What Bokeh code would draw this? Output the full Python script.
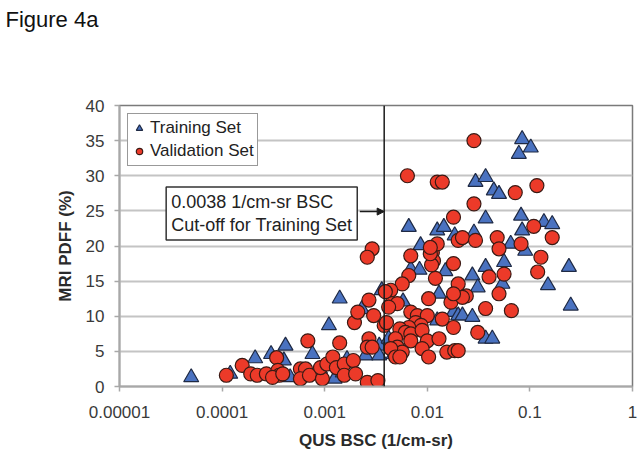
from bokeh.plotting import figure
from bokeh.models import (Range1d, FixedTicker, CustomJSTickFormatter, Span, Label,
                          Arrow, NormalHead, Legend, LegendItem, Title)
from bokeh.embed import file_html
from bokeh.resources import INLINE

# ---- data ----
train_x = [5e-5, 1.2e-4, 2.1e-4, 3.0e-4, 4.0e-4, 4.15e-4, 4.6e-4, 7.6e-4, 9e-4, 1.1e-3,
           1.25e-3, 1.4e-3, 1.5e-3, 1.65e-3, 2.3e-3, 2.5e-3, 3.4e-3, 3.4e-3, 3.6e-3, 4.2e-3,
           4.7e-3, 5.8e-3, 6.6e-3, 6.9e-3, 8.4e-3, 8.6e-3, 1.25e-2, 1.45e-2, 1.3e-2, 1.5e-2,
           1.25e-2, 1.85e-2, 1.8e-2, 2.0e-2, 2.2e-2, 2.75e-2, 2.75e-2, 2.85e-2, 2.95e-2, 3.7e-2,
           4.45e-2, 5.0e-2, 3.7e-2, 3.1e-2, 3.7e-2, 5.6e-2, 5.4e-2, 3.7e-2, 4.3e-2, 6.5e-2,
           9.0e-2, 8.4e-2, 8.2e-2, 8.4e-2, 1.02e-1, 7.8e-2, 1.37e-1, 1.65e-1, 1.5e-1, 2.4e-1,
           2.5e-1]
train_y = [1.3, 1.8, 4.0, 4.6, 3.7, 5.8, 1.3, 4.6, 2.5, 8.7,
           1.1, 12.5, 2.0, 3.9, 11.0, 4.4, 5.8, 4.4, 13.7, 6.8,
           4.6, 12.1, 22.7, 16.7, 16.6, 20.1, 22.2, 22.7, 13.2, 16.4,
           9.4, 21.5, 10.6, 10.1, 10.1, 9.9, 15.8, 21.9, 29.1, 29.8,
           27.9, 27.4, 23.9, 14.1, 17.0, 17.7, 14.6, 6.8, 6.8, 20.3,
           19.3, 22.2, 24.3, 35.2, 34.0, 33.1, 23.4, 23.1, 14.4, 17.0,
           11.5]

val_x = [1.1e-4, 1.57e-4, 1.9e-4, 2.2e-4, 2.7e-4, 3.4e-4, 3.5e-4, 3.6e-4, 3.1e-4, 3.9e-4,
         6.85e-4, 5.8e-4, 6.5e-4, 5.8e-4, 7.1e-4, 9.5e-4, 9.1e-4, 1.05e-3, 2.9e-3, 2.6e-3,
         2.7e-3, 3.0e-3, 1.95e-3, 1.4e-3, 2.7e-3, 2.6e-3, 2.9e-3, 1.2e-3, 1.3e-3, 1.55e-3,
         1.9e-3, 1.55e-3, 2.0e-3, 2.6e-3, 3.3e-3, 6.9e-3, 1.12e-2, 1.15e-2, 1.1e-2, 1.8e-2,
         6.6e-3, 1.2e-2, 5.7e-3, 4.4e-3, 4.5e-3, 5.1e-3, 4.2e-3, 1.03e-2, 1.7e-2, 6.9e-3,
         8.0e-3, 1.0e-2, 7.7e-3, 8.7e-3, 6.6e-3, 5.4e-3, 6.1e-3, 6.9e-3, 8.9e-3, 3.8e-3,
         1.4e-2, 1.8e-2, 4.9e-3, 6.9e-3, 1.0e-2, 1.3e-2, 5.1e-3, 5.7e-3, 4.4e-3, 8.9e-3,
         1.03e-2, 1.55e-2, 1.85e-2, 4.9e-3, 6.4e-3, 1.25e-2, 1.4e-2, 1.8e-2, 1.25e-2, 1.07e-2,
         2.0e-2, 2.85e-2, 7.2e-2, 1.17e-1, 2.85e-2, 1.09e-1, 1.65e-1, 2.2e-2, 2.95e-2, 4.8e-2,
         5.0e-2, 8.2e-2, 1.28e-1, 1.19e-1, 4.0e-2, 5.6e-2, 2.0e-2, 5.0e-2, 2.4e-2, 2.2e-2,
         3.7e-2, 6.6e-2, 3.1e-2, 2.0e-2, 1.8e-2, 2.1e-3, 4.0e-3, 5.4e-3, 1.07e-2, 3.9e-3]
val_y = [1.6, 3.0, 1.8, 1.6, 1.8, 4.1, 2.3, 1.6, 1.3, 1.8,
         6.5, 2.5, 2.5, 1.1, 1.6, 1.1, 2.7, 3.2, 19.6, 18.4,
         12.3, 10.1, 9.1, 6.2, 6.8, 5.6, 5.6, 4.2, 2.7, 3.2,
         3.7, 1.6, 1.8, 0.6, 0.85, 18.6, 19.1, 17.9, 17.3, 17.5,
         15.8, 15.4, 14.6, 13.7, 11.8, 11.8, 11.3, 12.5, 12.0, 10.6,
         10.1, 10.1, 9.1, 8.7, 8.4, 8.2, 7.7, 7.5, 8.0, 8.7,
         9.6, 8.4, 6.8, 6.5, 6.5, 6.8, 5.6, 4.9, 5.4, 5.4,
         4.2, 4.9, 5.1, 4.2, 30.0, 29.1, 29.1, 24.1, 20.3, 18.9,
         20.8, 35.0, 27.6, 28.6, 26.0, 22.8, 21.2, 21.2, 20.8, 21.2,
         19.6, 20.3, 18.4, 16.3, 15.6, 16.0, 14.6, 13.2, 12.9, 12.7,
         11.1, 10.8, 7.7, 5.1, 13.2, 10.6, 9.1, 4.2, 19.8, 13.5]

x_ticks = [1e-5, 1e-4, 1e-3, 1e-2, 1e-1, 1.0]
y_ticks = [0, 5, 10, 15, 20, 25, 30, 35, 40]
cutoff = 0.0038
cutoff_text = "0.0038 1/cm-sr BSC\nCut-off for Training Set"
figure_title = "Figure 4a"

FONT = "Liberation Sans"

W, H = 640, 456
p = figure(width=W, height=H, x_axis_type="log", title=None,
           x_range=Range1d(1e-5, 1), y_range=Range1d(0, 40),
           output_backend="svg", toolbar_location=None,
           min_border_left=119, min_border_right=8,
           min_border_top=105, min_border_bottom=70)
p.background_fill_color = "white"
p.border_fill_color = "white"
p.outline_line_color = "#7a7a7a"
p.outline_line_width = 1.5

# spacer panel nearest the frame, then the real title further out (at the very top)
spacer = Title(text=" ", text_font_size="10px", standoff=58)
p.add_layout(spacer, "above")
ttl = Title(text=figure_title, align="left", offset=-114, standoff=6,
            text_font=FONT, text_font_size="22px", text_font_style="normal",
            text_color="#111111")
p.add_layout(ttl, "above")

p.xgrid.grid_line_color = None
p.ygrid.grid_line_color = "#c4c4c4"
p.ygrid.grid_line_width = 2

p.xaxis.ticker = FixedTicker(ticks=x_ticks, minor_ticks=[])
p.xaxis.formatter = CustomJSTickFormatter(code="""
    if (tick >= 1) { return tick.toFixed(0); }
    return tick.toFixed(Math.round(-Math.log10(tick)));
""")
p.yaxis.ticker = FixedTicker(ticks=y_ticks, minor_ticks=[])

for ax in (p.xaxis, p.yaxis):
    ax.axis_line_color = "#a8a8a8"
    ax.axis_line_width = 2
    ax.major_tick_line_color = "#a8a8a8"
    ax.major_tick_line_width = 1.5
    ax.major_tick_out = 5
    ax.major_tick_in = 0
    ax.minor_tick_line_color = None
    ax.major_label_text_font = FONT
    ax.major_label_text_font_size = "17px"
    ax.major_label_text_color = "#3a3a3a"
    ax.axis_label_text_font = FONT
    ax.axis_label_text_font_size = "17px"
    ax.axis_label_text_font_style = "bold"
    ax.axis_label_text_color = "#2a2a2a"

p.xaxis.axis_label = "QUS BSC (1/cm-sr)"
p.yaxis.axis_label = "MRI PDFF (%)"
p.xaxis.major_label_standoff = 14
p.xaxis.axis_label_standoff = 10
p.yaxis.major_label_standoff = 10
p.yaxis.axis_label_standoff = 8

tri = p.scatter(train_x, train_y, marker="triangle", size=15,
                fill_color="#4a72c0", line_color="#1f2a44", line_width=1.2)
circ = p.scatter(val_x, val_y, marker="circle", size=14,
                 fill_color="#ec3a29", line_color="#3a1a14", line_width=1.2)

p.add_layout(Span(location=cutoff, dimension="height", line_color="#1a1a1a", line_width=1.5))

p.add_layout(Label(x=2.85e-5, y=28.4, text=cutoff_text, text_font=FONT,
                   text_font_size="18px", text_color="#222222",
                   text_align="left", text_baseline="top", text_line_height=1.15,
                   background_fill_color="white", border_line_color="#333333",
                   border_line_width=1.5, padding=5))

p.add_layout(Arrow(end=NormalHead(size=7, fill_color="#1a1a1a", line_color="#1a1a1a"),
                   x_start=2.2e-3, y_start=24.9, x_end=cutoff, y_end=24.9,
                   line_color="#1a1a1a", line_width=1.5))

legend = Legend(items=[LegendItem(label="Training Set", renderers=[tri]),
                       LegendItem(label="Validation Set", renderers=[circ])],
                location="top_left", margin=8, padding=3, spacing=1,
                glyph_width=16, glyph_height=22, label_standoff=3,
                label_text_font=FONT, label_text_font_size="17px",
                label_text_color="#222222",
                border_line_color="#333333", border_line_width=1.5,
                background_fill_color="white", background_fill_alpha=1)
p.add_layout(legend)

open("out.html", "w").write(file_html(p, INLINE))
